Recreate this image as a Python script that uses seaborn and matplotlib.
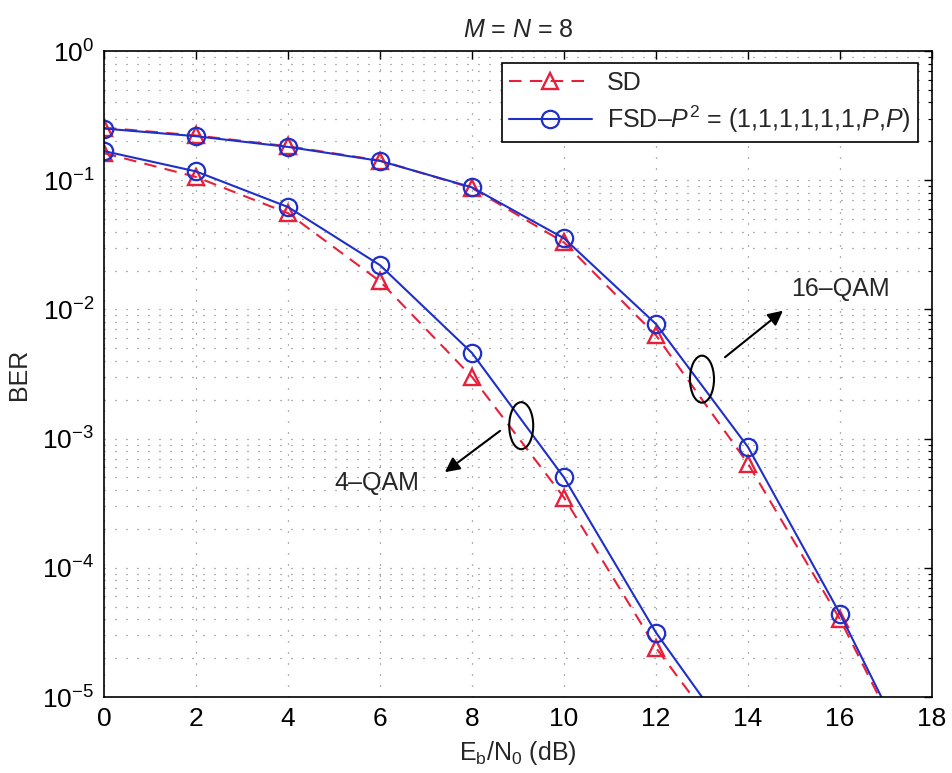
import numpy as np
import pandas as pd
import seaborn as sns
import matplotlib
matplotlib.use("Agg")
import matplotlib.pyplot as plt
from matplotlib.patches import Ellipse
from matplotlib.ticker import FixedLocator, LogLocator, NullFormatter, FuncFormatter

# Eb/N0 points where markers are placed (dB)
snr_16qam = [0, 2, 4, 6, 8, 10, 12, 14, 16]
snr_4qam = [0, 2, 4, 6, 8, 10, 12]

# BER curves
ber_sd_16qam = [0.255, 0.222, 0.183, 0.142, 0.087, 0.033, 0.0063, 0.00064, 0.000040]
ber_fsd_16qam = [0.251, 0.219, 0.181, 0.141, 0.088, 0.0355, 0.0077, 0.00086, 0.000044]
ber_sd_4qam = [0.162, 0.106, 0.0555, 0.0165, 0.0030, 0.00035, 0.000024]
ber_fsd_4qam = [0.168, 0.117, 0.062, 0.022, 0.0046, 0.00050, 0.0000315]

# where each curve leaves the plot at the lower BER limit
tail_snr = {"sd16": 16.85, "fsd16": 16.9, "sd4": 12.8, "fsd4": 13.0}
tail_ber = 1e-5

x_ticks = [0, 2, 4, 6, 8, 10, 12, 14, 16, 18]
y_ticks = [1e-5, 1e-4, 1e-3, 1e-2, 1e-1, 1e0]

RED = "#e8203c"
BLUE = "#1f2fc8"
FONT = "Liberation Sans"
FS = 18

sns.set_theme(style="white")
plt.rcParams["font.family"] = [FONT, "DejaVu Sans"]
plt.rcParams["mathtext.fontset"] = "custom"
plt.rcParams["mathtext.rm"] = FONT
plt.rcParams["mathtext.it"] = FONT + ":italic"
plt.rcParams["mathtext.bf"] = FONT + ":bold"

fig = plt.figure(figsize=(9.52, 7.73), dpi=100)
ax = fig.add_axes([104 / 952, 1 - 697 / 773, 828 / 952, 646 / 773])
ax.set_facecolor("white")


def curve(x, y, tail):
    return pd.DataFrame({"snr": list(x) + [tail], "ber": list(y) + [tail_ber]})


sd_style = dict(color=RED, lw=1.5, dashes=(6, 4), marker="^", ms=12,
                mfc="none", mec=RED, mew=1.7)
fsd_style = dict(color=BLUE, lw=1.5, marker="o", ms=12.5,
                 mfc="none", mec=BLUE, mew=1.6)

d = curve(snr_16qam, ber_sd_16qam, tail_snr["sd16"])
sns.lineplot(data=d, x="snr", y="ber", ax=ax, sort=False, estimator=None,
             markevery=list(range(len(snr_16qam))), label="SD", **sd_style)
d = curve(snr_16qam, ber_fsd_16qam, tail_snr["fsd16"])
sns.lineplot(data=d, x="snr", y="ber", ax=ax, sort=False, estimator=None,
             markevery=list(range(len(snr_16qam))),
             label=r"FSD–$P^2$ = (1,1,1,1,1,1,$P$,$P$)", **fsd_style)
d = curve(snr_4qam, ber_sd_4qam, tail_snr["sd4"])
sns.lineplot(data=d, x="snr", y="ber", ax=ax, sort=False, estimator=None,
             markevery=list(range(len(snr_4qam))), **sd_style)
d = curve(snr_4qam, ber_fsd_4qam, tail_snr["fsd4"])
sns.lineplot(data=d, x="snr", y="ber", ax=ax, sort=False, estimator=None,
             markevery=list(range(len(snr_4qam))), **fsd_style)

ax.set_yscale("log")
ax.set_xlim(0, 18)
ax.set_ylim(1e-5, 1e0)
ax.xaxis.set_major_locator(FixedLocator(x_ticks))
ax.yaxis.set_major_locator(FixedLocator(y_ticks))
ax.yaxis.set_minor_locator(LogLocator(base=10, subs=np.arange(2, 10)))
ax.yaxis.set_minor_formatter(NullFormatter())
ax.yaxis.set_major_formatter(FuncFormatter(lambda v, p: r"$10^{%d}$" % round(np.log10(v))))
ax.xaxis.set_major_formatter(FuncFormatter(lambda v, p: "%d" % v))

ax.tick_params(which="both", direction="in", top=True, right=True,
               labelsize=19, colors="black")
ax.tick_params(which="major", length=6, width=1.0, pad=7)
ax.tick_params(which="minor", length=3, width=0.8)
for s in ax.spines.values():
    s.set_color("black")
    s.set_linewidth(1.2)

grid_kw = dict(color="#666666", lw=0.9, linestyle=(0, (0.8, 8)))
ax.grid(True, which="major", axis="both", **grid_kw)
ax.grid(True, which="minor", axis="y", **grid_kw)
ax.set_axisbelow(True)

ax.set_xlabel(r"$\mathrm{E_b/N_0}$ (dB)", fontsize=FS, labelpad=6)
ax.set_ylabel("BER", fontsize=FS, labelpad=8)
ax.set_title(r"$M$ = $N$ = 8", fontsize=FS, pad=10)

leg = ax.legend(loc="upper right", bbox_to_anchor=(0.983, 0.981),
                borderaxespad=0, fontsize=FS, handlelength=3.3,
                handletextpad=0.6, borderpad=0.3, labelspacing=0.35,
                fancybox=False, framealpha=1, edgecolor="black")
leg.get_frame().set_linewidth(1.2)


def to_axes(x, y):
    return ax.transAxes.inverted().transform(ax.transData.transform((x, y)))


# group markers: ellipse around each pair of curves with a pointing arrow
for (ex, ey), (tx, ty), (hx, hy), (lx, ly), txt in [
    ((9.07, 10 ** -2.9), (8.61, 10 ** -2.94), (7.41, 10 ** -3.26), (5.93, 10 ** -3.34), "4–QAM"),
    ((13.0, 10 ** -2.54), (13.5, 10 ** -2.37), (14.76, 10 ** -2.01), (16.02, 10 ** -1.845), "16–QAM"),
]:
    cx, cy = to_axes(ex, ey)
    ax.add_patch(Ellipse((cx, cy), 24 / 828, 47 / 646, transform=ax.transAxes,
                         fill=False, edgecolor="black", lw=1.5, zorder=5))
    ax.annotate("", xy=(hx, hy), xytext=(tx, ty),
                arrowprops=dict(arrowstyle="-|>", color="black", lw=1.5,
                                mutation_scale=22, shrinkA=0, shrinkB=0), zorder=5)
    ax.text(lx, ly, txt, fontsize=FS, ha="center", va="center", zorder=5)

fig.savefig("out.png", dpi=100, facecolor="white")
